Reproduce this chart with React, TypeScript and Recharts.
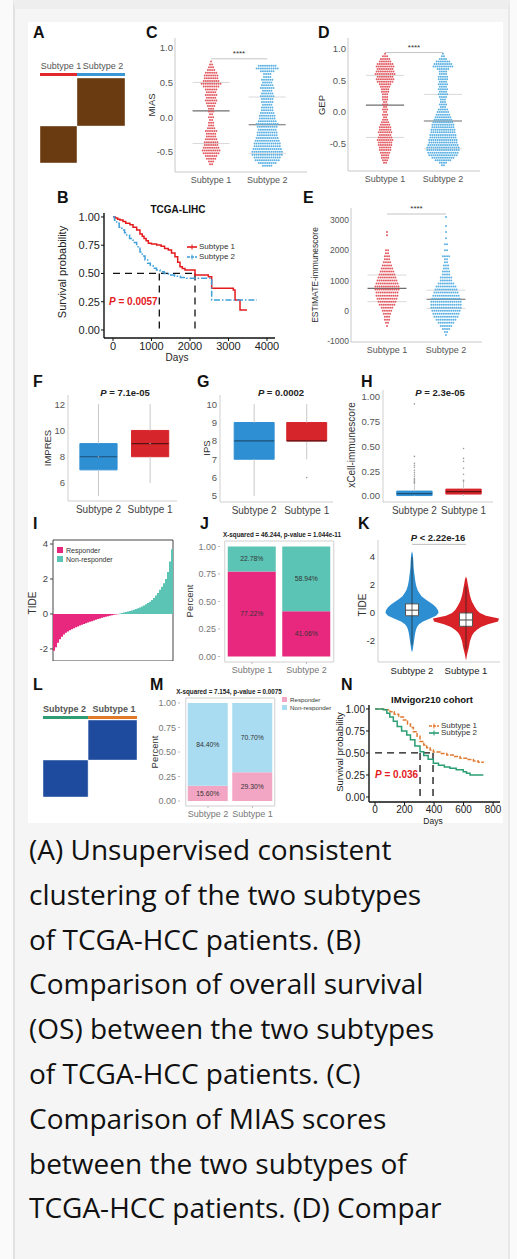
import React from "react"
import {
  ComposedChart, ScatterChart, LineChart, BarChart,
  Scatter, Line, Bar, Area, XAxis, YAxis, ReferenceLine, ReferenceArea, LabelList, Cell,
} from "recharts"

const SANS = "'Liberation Sans', Arial, Helvetica, sans-serif"
const BODY = "'Open Sans', 'Noto Sans', sans-serif"

// ---------- data ----------
const order12 = ["Subtype 1", "Subtype 2"]
const order21 = ["Subtype 2", "Subtype 1"]

// A / L: consensus clustering, samples per cluster in column order
const clusterA = [161, 209]
const clusterL = [167, 181]

// C: MIAS beeswarm rows [value, dots]
const miasS1 = [[0.8, 1], [0.76, 2], [0.72, 3], [0.68, 4], [0.64, 6], [0.6, 7], [0.56, 7], [0.52, 8], [0.48, 10], [0.44, 8], [0.4, 6], [0.36, 5], [0.32, 6], [0.28, 5], [0.24, 6], [0.2, 5], [0.16, 4], [0.12, 3], [0.08, 3], [0.04, 2], [0, 3], [-0.04, 2], [-0.08, 3], [-0.12, 3], [-0.16, 4], [-0.2, 6], [-0.24, 5], [-0.28, 5], [-0.32, 6], [-0.36, 7], [-0.4, 7], [-0.44, 8], [-0.48, 9], [-0.52, 8], [-0.56, 6], [-0.6, 5], [-0.64, 3], [-0.68, 2]]
const miasS2 = [[0.74, 9], [0.7, 11], [0.66, 7], [0.62, 4], [0.58, 4], [0.54, 6], [0.5, 5], [0.46, 6], [0.42, 7], [0.38, 5], [0.34, 6], [0.3, 7], [0.26, 6], [0.22, 6], [0.18, 5], [0.14, 6], [0.1, 6], [0.06, 7], [0.02, 8], [-0.02, 8], [-0.06, 9], [-0.1, 11], [-0.14, 10], [-0.18, 9], [-0.22, 10], [-0.26, 10], [-0.3, 11], [-0.34, 12], [-0.38, 13], [-0.42, 13], [-0.46, 14], [-0.5, 15], [-0.54, 15], [-0.58, 13], [-0.62, 12], [-0.66, 9], [-0.7, 5]]
const miasMean = [0.09, -0.11]
const miasUpper = [0.5, 0.29]
const miasLower = [-0.38, -0.52]

// D: GEP
const gepS1 = [[0.92, 1], [0.88, 3], [0.84, 5], [0.8, 6], [0.76, 8], [0.72, 9], [0.68, 8], [0.64, 9], [0.6, 10], [0.56, 8], [0.52, 9], [0.48, 8], [0.44, 6], [0.4, 5], [0.36, 4], [0.32, 4], [0.28, 3], [0.24, 3], [0.2, 3], [0.16, 2], [0.12, 3], [0.08, 2], [0.04, 3], [0, 2], [-0.04, 3], [-0.08, 2], [-0.12, 3], [-0.16, 4], [-0.2, 5], [-0.24, 6], [-0.28, 6], [-0.32, 7], [-0.36, 6], [-0.4, 7], [-0.44, 8], [-0.48, 7], [-0.52, 7], [-0.56, 6], [-0.6, 6], [-0.64, 5], [-0.68, 4], [-0.72, 4], [-0.76, 3], [-0.8, 2]]
const gepS2 = [[0.92, 1], [0.88, 2], [0.84, 4], [0.8, 7], [0.76, 9], [0.72, 10], [0.68, 6], [0.64, 4], [0.6, 4], [0.56, 5], [0.52, 5], [0.48, 4], [0.44, 5], [0.4, 4], [0.36, 5], [0.32, 4], [0.28, 5], [0.24, 4], [0.2, 3], [0.16, 3], [0.12, 4], [0.08, 3], [0.04, 5], [0, 6], [-0.04, 7], [-0.08, 8], [-0.12, 9], [-0.16, 10], [-0.2, 11], [-0.24, 11], [-0.28, 12], [-0.32, 12], [-0.36, 13], [-0.4, 13], [-0.44, 14], [-0.48, 14], [-0.52, 15], [-0.56, 16], [-0.6, 16], [-0.64, 15], [-0.68, 14], [-0.72, 11], [-0.76, 8], [-0.8, 4], [-0.84, 2]]
const gepMean = [0.11, -0.14]
const gepUpper = [0.58, 0.28]
const gepLower = [-0.4, -0.58]

// E: ESTIMATE immunescore
const estS1 = [[2600, 1], [2500, 1], [2000, 2], [1900, 2], [1800, 3], [1700, 3], [1600, 4], [1500, 5], [1400, 6], [1300, 7], [1200, 8], [1100, 9], [1000, 10], [900, 11], [800, 12], [700, 12], [600, 11], [500, 11], [400, 10], [300, 9], [200, 8], [100, 6], [0, 5], [-100, 4], [-200, 3], [-300, 3], [-400, 2], [-500, 1]]
const estS2 = [[3100, 1], [2800, 1], [2600, 1], [2400, 1], [2200, 2], [2000, 2], [1800, 4], [1700, 2], [1600, 2], [1500, 3], [1400, 3], [1300, 4], [1200, 4], [1100, 6], [1000, 6], [900, 8], [800, 10], [700, 11], [600, 12], [500, 13], [400, 14], [300, 15], [200, 15], [100, 15], [0, 14], [-100, 13], [-200, 12], [-300, 10], [-400, 8], [-500, 6], [-600, 4], [-700, 2], [-800, 1]]
const estMean = [740, 380]
const estUpper = [1180, 680]
const estLower = [300, 80]

// B: TCGA-LIHC Kaplan-Meier [days, survival]
const lihcS1 = [[0, 1], [60, 0.99], [120, 0.98], [180, 0.973], [260, 0.96], [330, 0.945], [440, 0.93], [520, 0.91], [615, 0.885], [700, 0.85], [760, 0.83], [805, 0.81], [860, 0.79], [918, 0.767], [1000, 0.76], [1134, 0.752], [1250, 0.74], [1340, 0.72], [1437, 0.708], [1520, 0.68], [1610, 0.649], [1680, 0.6], [1740, 0.56], [1800, 0.545], [1870, 0.531], [2130, 0.487], [2476, 0.472], [2563, 0.369], [3125, 0.354], [3170, 0.265], [3299, 0.177], [3480, 0.177]]
const lihcS2 = [[0, 1], [40, 0.97], [95, 0.944], [160, 0.91], [230, 0.885], [300, 0.86], [355, 0.84], [430, 0.81], [520, 0.775], [615, 0.737], [700, 0.69], [760, 0.655], [831, 0.62], [900, 0.59], [970, 0.565], [1047, 0.546], [1130, 0.53], [1221, 0.516], [1330, 0.5], [1437, 0.487], [1600, 0.475], [1750, 0.465], [1913, 0.457], [2476, 0.457], [2563, 0.265], [3740, 0.265]]
const lihcMedian = [1203, 2130]

// F/G/H boxplots, order Subtype 2, Subtype 1: [min, q1, median, q3, max]
const impresBox = [[5, 7, 8, 9, 12], [6, 8, 9, 10, 12]]
const ipsBox = [[5, 7, 8, 9, 10], [7, 8, 8, 9, 10]]
const ipsOut = [[], [6]]
const xcellBox = [[0, 0.005, 0.025, 0.05, 0.12], [0, 0.02, 0.045, 0.07, 0.14]]
const xcellOut = [[0.93, 0.4, 0.33, 0.31, 0.29, 0.26, 0.24, 0.22, 0.2, 0.18, 0.17, 0.16, 0.15, 0.14, 0.13], [0.48, 0.38, 0.35, 0.28, 0.22, 0.16, 0.15]]

// I: TIDE score per patient, sorted
const tideSorted = [-2.1, -1.9, -1.65, -1.45, -1.3, -1.18, -1.08, -1.0, -0.93, -0.87, -0.81, -0.76, -0.71, -0.66, -0.61, -0.57, -0.53, -0.49, -0.45, -0.41, -0.37, -0.33, -0.29, -0.26, -0.22, -0.19, -0.16, -0.13, -0.1, -0.08, -0.05, -0.03, -0.01, 0.02, 0.05, 0.08, 0.11, 0.14, 0.17, 0.2, 0.24, 0.28, 0.32, 0.37, 0.42, 0.48, 0.55, 0.62, 0.7, 0.8, 0.92, 1.05, 1.2, 1.38, 1.55, 1.75, 2.0, 2.4, 3.0, 3.7]

// J / M: response proportions
const jResponder = [0.7722, 0.4106]
const jNonResponder = [0.2278, 0.5894]
const mResponder = [0.156, 0.293]
const mNonResponder = [0.844, 0.707]

// K: violin density (Subtype 2, Subtype 1) on a TIDE grid, 0 outside the range
const violinY = [4.6, 4.4, 4.2, 4.0, 3.8, 3.6, 3.4, 3.2, 3.0, 2.8, 2.6, 2.4, 2.2, 2.0, 1.8, 1.6, 1.4, 1.2, 1.0, 0.8, 0.6, 0.4, 0.2, 0.0, -0.2, -0.4, -0.6, -0.8, -1.0, -1.2, -1.4, -1.6, -1.8, -2.0, -2.2, -2.4, -2.6, -2.8, -3.0, -3.2, -3.4]
const violinS2 = [0, 0, 0.8, 1.0, 1.2, 1.4, 1.5, 1.7, 2.0, 2.3, 2.7, 3.0, 3.5, 4.0, 4.8, 5.8, 7.5, 9.5, 13, 17, 21, 24, 26, 26.5, 24, 18, 11, 7, 5, 4, 3.3, 2.8, 2.4, 2.0, 1.6, 1.2, 0.8, 0, 0, 0, 0]
const violinS1 = [0, 0, 0, 0, 0, 0, 0, 0, 0, 0, 0, 1.0, 1.5, 2.0, 2.5, 3.0, 3.5, 4.2, 5.0, 6.0, 7.5, 9.0, 11, 14, 20, 33, 32, 22, 15, 11, 8, 6, 5, 4, 3.5, 3, 2.3, 1.6, 1.0, 0.5, 0]
const tideBox = [[-2.3, -0.2, 0.2, 0.65, 4.0], [-2.6, -0.95, -0.5, 0.0, 1.9]]

// N: IMvigor210 Kaplan-Meier
const imvS1 = [[0, 1], [40, 1], [70, 0.99], [102, 0.967], [130, 0.94], [160, 0.91], [192, 0.875], [220, 0.83], [240, 0.79], [260, 0.742], [285, 0.69], [305, 0.63], [330, 0.59], [350, 0.56], [373, 0.534], [395, 0.51], [440, 0.495], [486, 0.477], [530, 0.46], [576, 0.44], [620, 0.425], [667, 0.41], [700, 0.395], [734, 0.39]]
const imvS2 = [[0, 1], [30, 1], [56, 0.99], [80, 0.95], [100, 0.91], [124, 0.86], [150, 0.8], [180, 0.75], [215, 0.705], [240, 0.65], [270, 0.58], [305, 0.515], [330, 0.47], [360, 0.43], [395, 0.383], [430, 0.36], [470, 0.34], [508, 0.326], [550, 0.31], [598, 0.288], [620, 0.27], [644, 0.25], [734, 0.25]]
const imvMedian = [305, 393]

const captionLines = [
  "(A) Unsupervised consistent",
  "clustering of the two subtypes",
  "of TCGA-HCC patients. (B)",
  "Comparison of overall survival",
  "(OS) between the two subtypes",
  "of TCGA-HCC patients. (C)",
  "Comparison of MIAS scores",
  "between the two subtypes of",
  "TCGA-HCC patients. (D) Compar",
]

// ---------- helpers ----------
const tick = (size, fill) => ({ fontSize: size, fill, fontFamily: SANS })

function frame(x0, y0, x1, y1, yw, xh, mt = 4, mr = 4) {
  return {
    left: x0 - yw, top: y0 - mt, width: yw + (x1 - x0) + mr, height: mt + (y1 - y0) + xh,
    yw, xh, margin: { top: mt, right: mr, left: 0, bottom: 0 },
  }
}

function Holder({ f, children }) {
  return <div style={{ position: "absolute", left: f.left, top: f.top, width: f.width, height: f.height }}>{children}</div>
}

function Tx({ x, y, s = 9, c = "#333", b = false, mid = false, rot = false, children }: any) {
  const st: any = {
    position: "absolute", left: x, top: rot ? y : y - s / 2, fontFamily: SANS, fontSize: s,
    lineHeight: `${s}px`, color: c, fontWeight: b ? 700 : 400, whiteSpace: "nowrap",
  }
  if (rot) st.transform = "translate(-50%, -50%) rotate(-90deg)"
  else if (mid) st.transform = "translateX(-50%)"
  return <div style={st}>{children}</div>
}

function Letter({ x, y, children }) {
  return <Tx x={x} y={y} s={16} b c="#111">{children}</Tx>
}

function swarm(bins, center, step) {
  const pts = []
  bins.forEach(([v, n]) => {
    for (let i = 0; i < n; i++) pts.push({ x: center + (i - (n - 1) / 2) * step, y: v })
  })
  return pts
}

const dot = (c, r = 1.0) => (p) => <circle cx={p.cx} cy={p.cy} r={r} fill={c} />
const nothing = () => <g />

function SwarmPanel({ f, xDom, yDom, yTicks, fmt, bins, mean, upper, lower, bracket, unitPx, yFont = 9.5 }) {
  const colors = ["#e25b63", "#5db2e3"]
  const step = 2.1 / unitPx
  return (
    <Holder f={f}>
      <ScatterChart width={f.width} height={f.height} margin={f.margin}>
        <XAxis type="number" dataKey="x" domain={xDom} allowDataOverflow ticks={[1, 2]} interval={0}
          tickFormatter={(v) => order12[v - 1]} height={f.xh} axisLine={{ stroke: "#c8c8c8" }}
          tickLine={false} tickSize={3} tickMargin={2} tick={tick(9, "#555")} />
        <YAxis type="number" dataKey="y" domain={yDom} allowDataOverflow ticks={yTicks} interval={0}
          tickFormatter={fmt} width={f.yw} axisLine={{ stroke: "#c8c8c8" }} tickLine={false}
          tickSize={0} tickMargin={2} tick={tick(yFont, "#555")} />
        {[0, 1].map((i) => (
          <ReferenceLine key={`u${i}`} segment={[{ x: i + 0.67, y: upper[i] }, { x: i + 1.33, y: upper[i] }]} stroke="#d9d9d9" />
        ))}
        {[0, 1].map((i) => (
          <ReferenceLine key={`l${i}`} segment={[{ x: i + 0.67, y: lower[i] }, { x: i + 1.33, y: lower[i] }]} stroke="#d9d9d9" />
        ))}
        {bins.map((b, i) => (
          <Scatter key={`s${i}`} data={swarm(b, i + 1, step)} isAnimationActive={false} shape={dot(colors[i])} />
        ))}
        {[0, 1].map((i) => (
          <ReferenceLine key={`m${i}`} segment={[{ x: i + 0.67, y: mean[i] }, { x: i + 1.33, y: mean[i] }]} stroke="#6e6e6e" strokeWidth={1.1} />
        ))}
        <ReferenceLine segment={[{ x: 1, y: bracket }, { x: 2, y: bracket }]} stroke="#c4c4c4" />
      </ScatterChart>
    </Holder>
  )
}

function KmPanel({ f, xDom, xTicks, yDom, curves, medians, font }) {
  const dash = { stroke: "#111", strokeDasharray: "7 5", strokeWidth: 1.3 }
  return (
    <Holder f={f}>
      <LineChart width={f.width} height={f.height} margin={f.margin}>
        <XAxis type="number" dataKey="t" domain={xDom} allowDataOverflow ticks={xTicks} interval={0}
          height={f.xh} axisLine={{ stroke: "#111", strokeWidth: 1.4 }} tickLine={{ stroke: "#111" }}
          tickSize={3} tickMargin={1} tick={tick(font, "#222")} />
        <YAxis type="number" domain={yDom} allowDataOverflow ticks={[0, 0.25, 0.5, 0.75, 1]} interval={0}
          tickFormatter={(v) => v.toFixed(2)} width={f.yw} axisLine={{ stroke: "#111", strokeWidth: 1.4 }}
          tickLine={{ stroke: "#111" }} tickSize={3} tickMargin={1} tick={tick(font, "#222")} />
        <ReferenceLine segment={[{ x: 0, y: 0.5 }, { x: medians[1], y: 0.5 }]} {...dash} />
        {medians.map((m, i) => (
          <ReferenceLine key={`md${i}`} segment={[{ x: m, y: 0.5 }, { x: m, y: 0 }]} {...dash} />
        ))}
        {curves.map((c, i) => (
          <Line key={`c${i}`} data={c.data.map(([t, s]) => ({ t, s }))} dataKey="s" type="stepAfter"
            stroke={c.color} strokeWidth={1.5} strokeDasharray={c.dash} dot={false} isAnimationActive={false} />
        ))}
      </LineChart>
    </Holder>
  )
}

function BoxPanel({ f, xDom, yDom, yTicks, fmt, stats, outliers = [[], []], half }) {
  const fills = ["#2f8fd3", "#d7262b"]
  const meds = ["#1d4f73", "#5b1212"]
  const rows = stats.map((s, i) => ({ x: i + 1, y: s[2] }))
  const outPts = outliers.flatMap((o, i) => o.map((v) => ({ x: i + 1, y: v })))
  return (
    <Holder f={f}>
      <ComposedChart data={rows} width={f.width} height={f.height} margin={f.margin}>
        <XAxis type="number" dataKey="x" domain={xDom} allowDataOverflow ticks={[1, 2]} interval={0}
          tickFormatter={(v) => order21[v - 1]} height={f.xh} axisLine={{ stroke: "#cfcfcf" }}
          tickLine={false} tickSize={3} tickMargin={2} tick={tick(10, "#444")} />
        <YAxis type="number" dataKey="y" domain={yDom} allowDataOverflow ticks={yTicks} interval={0}
          tickFormatter={fmt} width={f.yw} axisLine={{ stroke: "#cfcfcf" }} tickLine={false}
          tickSize={0} tickMargin={3} tick={tick(9.5, "#555")} />
        {stats.map((s, i) => (
          <ReferenceLine key={`wl${i}`} segment={[{ x: i + 1, y: s[0] }, { x: i + 1, y: s[1] }]} stroke="#c9c9c9" />
        ))}
        {stats.map((s, i) => (
          <ReferenceLine key={`wh${i}`} segment={[{ x: i + 1, y: s[3] }, { x: i + 1, y: s[4] }]} stroke="#c9c9c9" />
        ))}
        {stats.map((s, i) => (
          <ReferenceArea key={`b${i}`} x1={i + 1 - half} x2={i + 1 + half} y1={s[1]} y2={s[3]}
            fill={fills[i]} fillOpacity={1} stroke={fills[i]} />
        ))}
        {stats.map((s, i) => (
          <ReferenceLine key={`m${i}`} segment={[{ x: i + 1 - half, y: s[2] }, { x: i + 1 + half, y: s[2] }]} stroke={meds[i]} strokeWidth={1.1} />
        ))}
        <Scatter data={outPts} isAnimationActive={false} shape={dot("#9a9a9a", 0.8)} />
      </ComposedChart>
    </Holder>
  )
}

function StackPanel({ f, rows, colors, pad, barSize }) {
  const pct = (v) => `${(v * 100).toFixed(2)}%`
  return (
    <Holder f={f}>
      <BarChart data={rows} width={f.width} height={f.height} margin={f.margin}>
        <XAxis dataKey="name" padding={pad} height={f.xh} axisLine={false} tickLine={{ stroke: "#bbb" }}
          tickSize={2} tickMargin={3} tick={tick(9, "#777")} />
        <YAxis type="number" domain={[-0.05, 1.05]} allowDataOverflow ticks={[0, 0.25, 0.5, 0.75, 1]} interval={0}
          tickFormatter={(v) => v.toFixed(2)} width={f.yw} axisLine={false} tickLine={{ stroke: "#bbb" }}
          tickSize={2} tickMargin={2} tick={tick(9, "#777")} />
        <Bar dataKey="resp" stackId="a" fill={colors[0]} barSize={barSize} isAnimationActive={false}>
          <LabelList dataKey="resp" position="center" formatter={pct} fontSize={6.8} fill="#333" fontFamily={SANS} />
        </Bar>
        <Bar dataKey="non" stackId="a" fill={colors[1]} barSize={barSize} isAnimationActive={false}>
          <LabelList dataKey="non" position="center" formatter={pct} fontSize={6.8} fill="#333" fontFamily={SANS} />
        </Bar>
        <ReferenceArea y1={-0.05} y2={1.05} fill="none" stroke="#d0d0d0" ifOverflow="visible" />
      </BarChart>
    </Holder>
  )
}

function HeatPanel({ f, counts, fill, bandColors, rowsPx, bandPx }) {
  const total = counts[0] + counts[1]
  const starts = [0, counts[0]]
  const top = total * (1 + bandPx[0] / rowsPx)
  const rows = counts.map((n, i) => ({ x: starts[i] + n / 2, y: starts[i] + n / 2 }))
  return (
    <Holder f={f}>
      <ComposedChart data={rows} width={f.width} height={f.height} margin={f.margin}>
        <XAxis type="number" dataKey="x" domain={[0, total]} allowDataOverflow hide />
        <YAxis type="number" dataKey="y" domain={[0, top]} allowDataOverflow hide />
        {counts.map((n, i) => (
          <ReferenceArea key={`h${i}`} x1={starts[i]} x2={starts[i] + n} y1={starts[i]} y2={starts[i] + n}
            fill={fill} fillOpacity={1} stroke="#ffffff" strokeOpacity={0.4} />
        ))}
        {counts.map((n, i) => (
          <ReferenceArea key={`a${i}`} x1={starts[i]} x2={starts[i] + n}
            y1={total * (1 + bandPx[1] / rowsPx)} y2={total * (1 + bandPx[2] / rowsPx)}
            fill={bandColors[i]} fillOpacity={1} />
        ))}
        <Scatter dataKey="y" isAnimationActive={false} shape={nothing} />
      </ComposedChart>
    </Holder>
  )
}

function KmKey({ x, y, color, dash, children, s = 8 }) {
  return (
    <div style={{ position: "absolute", left: x, top: y - s / 2, height: s, display: "flex", alignItems: "center", gap: 2 }}>
      <svg width={10} height={6}>
        <line x1={0} y1={3} x2={10} y2={3} stroke={color} strokeWidth={1.6} strokeDasharray={dash} />
        <line x1={5} y1={0.5} x2={5} y2={5.5} stroke={color} strokeWidth={1} />
      </svg>
      <span style={{ fontFamily: SANS, fontSize: s, lineHeight: `${s}px`, color: "#333", whiteSpace: "nowrap" }}>{children}</span>
    </div>
  )
}

function SqKey({ x, y, color, children, s = 7, box = 6 }) {
  return (
    <div style={{ position: "absolute", left: x, top: y - s / 2, height: s, display: "flex", alignItems: "center", gap: 3 }}>
      <div style={{ width: box, height: box, background: color }} />
      <span style={{ fontFamily: SANS, fontSize: s, lineHeight: `${s}px`, color: "#333", whiteSpace: "nowrap" }}>{children}</span>
    </div>
  )
}

// ---------- frames ----------
const fC = frame(175, 38, 307, 172, 30, 16)
const fD = frame(348, 38, 480, 171, 30, 16)
const fE = frame(351, 208, 482, 342, 30, 14)
const fB = frame(104, 213, 275, 338, 30, 16)
const fF = frame(68, 395, 177, 501, 30, 16)
const fG = frame(220, 395, 333, 502, 30, 16)
const fH = frame(383, 390, 493, 502, 30, 16)
const fI = frame(53, 540, 173, 661, 30, 0)
const fJ = frame(220, 540.5, 338, 661.5, 30, 16)
const fK = frame(378, 540, 500, 662, 30, 16)
const fA = frame(40, 68, 125, 163, 0, 0, 0, 0)
const fL = frame(43, 712, 137, 797, 0, 0, 0, 0)
const fM = frame(180, 698, 278, 806, 30, 16)
const fN = frame(369, 705, 500, 802, 30, 14)

function TidePanel() {
  const rows = tideSorted.map((v, i) => ({ i, v }))
  return (
    <Holder f={fI}>
      <BarChart data={rows} width={fI.width} height={fI.height} margin={fI.margin} barCategoryGap={0} barGap={0}>
        <XAxis dataKey="i" hide />
        <YAxis type="number" domain={[-2.69, 4.23]} allowDataOverflow ticks={[-2, 0, 2, 4]} interval={0}
          width={fI.yw} axisLine={false} tickLine={{ stroke: "#444" }} tickSize={3} tickMargin={2} tick={tick(9.5, "#444")} />
        <Bar dataKey="v" isAnimationActive={false}>
          {rows.map((r, i) => <Cell key={i} fill={r.v < 0 ? "#e7287e" : "#5cc4b5"} />)}
        </Bar>
        <ReferenceArea y1={-2.69} y2={4.23} fill="none" stroke="#444" ifOverflow="visible" />
      </BarChart>
    </Holder>
  )
}

function ViolinPanel() {
  const k = 1 / 54
  const rows = violinY.map((y, i) => ({
    y,
    s2: [1 - violinS2[i] * k, 1 + violinS2[i] * k],
    s1: [2 - violinS1[i] * k, 2 + violinS1[i] * k],
  }))
  const half = 0.12
  return (
    <Holder f={fK}>
      <ComposedChart layout="vertical" data={rows} width={fK.width} height={fK.height} margin={fK.margin}>
        <XAxis type="number" domain={[0.37, 2.63]} allowDataOverflow ticks={[1, 2]} interval={0}
          tickFormatter={(v) => order21[v - 1]} height={fK.xh} axisLine={{ stroke: "#cfcfcf" }}
          tickLine={false} tickSize={3} tickMargin={2} tick={tick(9.5, "#222")} />
        <YAxis type="number" dataKey="y" domain={[-3.5, 5.21]} allowDataOverflow reversed ticks={[-2, 0, 2, 4]} interval={0}
          width={fK.yw} axisLine={{ stroke: "#cfcfcf" }} tickLine={false} tickSize={0} tickMargin={3} tick={tick(9.5, "#333")} />
        <Area dataKey="s2" type="linear" fill="#2d8fd2" stroke="none" fillOpacity={1} isAnimationActive={false} />
        <Area dataKey="s1" type="linear" fill="#d82228" stroke="none" fillOpacity={1} isAnimationActive={false} />
        {tideBox.map((s, i) => (
          <ReferenceLine key={`w${i}`} segment={[{ x: i + 1, y: s[0] }, { x: i + 1, y: s[4] }]} stroke="#222" strokeWidth={0.7} />
        ))}
        {tideBox.map((s, i) => (
          <ReferenceArea key={`b${i}`} x1={i + 1 - half} x2={i + 1 + half} y1={s[1]} y2={s[3]} fill="#ffffff" fillOpacity={1} stroke="#555" />
        ))}
        {tideBox.map((s, i) => (
          <ReferenceLine key={`m${i}`} segment={[{ x: i + 1 - half, y: s[2] }, { x: i + 1 + half, y: s[2] }]} stroke="#444" />
        ))}
        <ReferenceLine segment={[{ x: 1, y: 4.9 }, { x: 2, y: 4.9 }]} stroke="#bbb" />
      </ComposedChart>
    </Holder>
  )
}

export default function App() {
  const jRows = order12.map((name, i) => ({ name, resp: jResponder[i], non: jNonResponder[i] }))
  const mRows = order21.map((name, i) => ({ name, resp: mResponder[i], non: mNonResponder[i] }))
  return (
    <div style={{ position: "absolute", left: 0, top: 0, width: 517, height: 1259, background: "#fafafa", overflow: "hidden" }}>
      <div style={{ position: "absolute", left: 13, top: 0, width: 493, height: 1259, background: "#f5f5f5", borderLeft: "2px solid #e2e2e2", borderRight: "2px solid #e8e8e8", borderTop: "9px solid #eeeeee" }} />
      <div style={{ position: "absolute", left: 28, top: 22, width: 475, height: 801, background: "#ffffff" }} />

      <HeatPanel f={fA} counts={clusterA} fill="#6a3a10" bandColors={["#e3262b", "#3a97d5"]} rowsPx={85} bandPx={[10, 2, 5]} />
      <SwarmPanel f={fC} xDom={[0.357, 2.71]} yDom={[-0.79, 1.14]} yTicks={[-0.5, 0, 0.5, 1]} fmt={(v) => v.toFixed(1)}
        bins={[miasS1, miasS2]} mean={miasMean} upper={miasUpper} lower={miasLower} bracket={0.84} unitPx={56} />
      <SwarmPanel f={fD} xDom={[0.36, 2.64]} yDom={[-0.93, 1.17]} yTicks={[-0.5, 0, 0.5, 1]} fmt={(v) => v.toFixed(1)}
        bins={[gepS1, gepS2]} mean={gepMean} upper={gepUpper} lower={gepLower} bracket={0.94} unitPx={58} />
      <KmPanel f={fB} xDom={[-234, 4208]} xTicks={[0, 1000, 2000, 3000, 4000]} yDom={[-0.071, 1.035]} medians={lihcMedian} font={11}
        curves={[{ data: lihcS1, color: "#e41a1c" }, { data: lihcS2, color: "#3f9fd9", dash: "6 2 1.5 2" }]} />
      <SwarmPanel f={fE} xDom={[0.39, 2.61]} yDom={[-1033, 3397]} yTicks={[-1000, 0, 1000, 2000, 3000]} fmt={(v) => `${v}`}
        bins={[estS1, estS2]} mean={estMean} upper={estUpper} lower={estLower} bracket={3198} unitPx={59} yFont={8.5} />
      <BoxPanel f={fF} xDom={[0.41, 2.52]} yDom={[4.63, 12.7]} yTicks={[6, 8, 10, 12]} fmt={(v) => `${v}`} stats={impresBox} half={0.36} />
      <BoxPanel f={fG} xDom={[0.35, 2.5]} yDom={[4.67, 10.5]} yTicks={[5, 6, 7, 8, 9, 10]} fmt={(v) => `${v}`} stats={ipsBox} outliers={ipsOut} half={0.38} />
      <BoxPanel f={fH} xDom={[0.36, 2.6]} yDom={[-0.06, 1.07]} yTicks={[0, 0.25, 0.5, 0.75, 1]} fmt={(v) => v.toFixed(2)} stats={xcellBox} outliers={xcellOut} half={0.36} />
      <TidePanel />
      <StackPanel f={fJ} rows={jRows} colors={["#e7287e", "#5cc4b5"]} pad={{ left: 4.75, right: 4.25 }} barSize={48} />
      <ViolinPanel />
      <HeatPanel f={fL} counts={clusterL} fill="#1e4b9e" bandColors={["#2e9d73", "#e0792a"]} rowsPx={77} bandPx={[8, 1, 4]} />
      <StackPanel f={fM} rows={mRows} colors={["#f3a6c4", "#a9dcf0"]} pad={{ left: 5.75, right: 3.25 }} barSize={40} />
      <KmPanel f={fN} xDom={[-41, 847]} xTicks={[0, 200, 400, 600, 800]} yDom={[-0.057, 1.045]} medians={imvMedian} font={10}
        curves={[{ data: imvS1, color: "#e07a30", dash: "4 1.5" }, { data: imvS2, color: "#2b9e73" }]} />

      {/* panel letters */}
      <Letter x={33} y={32.5}>A</Letter>
      <Letter x={146} y={32.5}>C</Letter>
      <Letter x={318} y={32.5}>D</Letter>
      <Letter x={57} y={197.5}>B</Letter>
      <Letter x={303} y={197.5}>E</Letter>
      <Letter x={33} y={382}>F</Letter>
      <Letter x={197} y={382}>G</Letter>
      <Letter x={361} y={382}>H</Letter>
      <Letter x={33} y={524}>I</Letter>
      <Letter x={200} y={524}>J</Letter>
      <Letter x={358} y={524}>K</Letter>
      <Letter x={33} y={685}>L</Letter>
      <Letter x={150} y={685}>M</Letter>
      <Letter x={341} y={685}>N</Letter>

      {/* A */}
      <Tx x={61} y={66} s={9} c="#555" mid>Subtype 1</Tx>
      <Tx x={103} y={66} s={9} c="#555" mid>Subtype 2</Tx>
      {/* C, D, E */}
      <Tx x={152} y={105} s={9.5} rot>MIAS</Tx>
      <Tx x={239} y={54} s={8} mid>****</Tx>
      <Tx x={322} y={105} s={9.5} rot>GEP</Tx>
      <Tx x={414} y={48} s={8} mid>****</Tx>
      <Tx x={315} y={275} s={8.5} rot>ESTIMATE-immunescore</Tx>
      <Tx x={416.5} y={209} s={8} mid>****</Tx>
      {/* B */}
      <Tx x={178} y={210} s={10} b c="#111" mid>TCGA-LIHC</Tx>
      <Tx x={62} y={272} s={11} c="#222" rot>Survival probability</Tx>
      <Tx x={109} y={302} s={10} b c="#e41a1c"><i>P</i> = 0.0057</Tx>
      <Tx x={177} y={358} s={10} c="#222" mid>Days</Tx>
      <KmKey x={187} y={247} color="#e41a1c">Subtype 1</KmKey>
      <KmKey x={187} y={257} color="#3f9fd9" dash="3 1">Subtype 2</KmKey>
      {/* F, G, H */}
      <Tx x={125} y={393} s={9.5} b c="#222" mid><i>P</i> = 7.1e-05</Tx>
      <Tx x={48} y={448} s={9.5} rot>IMPRES</Tx>
      <Tx x={281} y={393} s={9.5} b c="#222" mid><i>P</i> = 0.0002</Tx>
      <Tx x={207} y={448} s={9.5} rot>IPS</Tx>
      <Tx x={440} y={393} s={9.5} b c="#222" mid><i>P</i> = 2.3e-05</Tx>
      <Tx x={352} y={445} s={10} rot>xCell-immunescore</Tx>
      {/* I */}
      <Tx x={33} y={603} s={10} rot>TIDE</Tx>
      <SqKey x={57} y={550} color="#e7287e">Responder</SqKey>
      <SqKey x={57} y={559} color="#5cc4b5">Non-responder</SqKey>
      {/* J */}
      <Tx x={282} y={535} s={6.3} b c="#222" mid>X-squared = 46.244, p-value = 1.044e-11</Tx>
      <Tx x={190} y={601} s={9.5} rot>Percent</Tx>
      {/* K */}
      <Tx x={438} y={538} s={9.5} b c="#222" mid><i>P</i> &lt; 2.22e-16</Tx>
      <Tx x={363} y={605} s={10} rot>TIDE</Tx>
      {/* L */}
      <Tx x={64.5} y={709} s={9} b c="#555" mid>Subtype 2</Tx>
      <Tx x={114} y={709} s={9} b c="#555" mid>Subtype 1</Tx>
      {/* M */}
      <Tx x={229} y={692} s={6.3} b c="#222" mid>X-squared = 7.154, p-value = 0.0075</Tx>
      <Tx x={155} y={752} s={9.5} rot>Percent</Tx>
      <SqKey x={282} y={700} color="#f3a6c4" s={6.2} box={5}>Responder</SqKey>
      <SqKey x={282} y={708} color="#a9dcf0" s={6.2} box={5}>Non-responder</SqKey>
      {/* N */}
      <Tx x={432} y={700} s={9.5} b c="#111" mid>IMvigor210 cohort</Tx>
      <Tx x={340} y={752} s={9.5} c="#222" rot>Survival probability</Tx>
      <Tx x={375} y={775} s={10} b c="#e41a1c"><i>P</i> = 0.036</Tx>
      <Tx x={433} y={821} s={8.5} c="#222" mid>Days</Tx>
      <KmKey x={429} y={726} color="#e07a30" dash="3 1">Subtype 1</KmKey>
      <KmKey x={429} y={733} color="#2b9e73">Subtype 2</KmKey>

      {/* caption */}
      <div style={{ position: "absolute", left: 29, top: 827, width: 474, overflow: "hidden", fontFamily: BODY, fontSize: 28, lineHeight: 1.6, color: "#111" }}>
        {captionLines.map((l, i) => <div key={i} style={{ whiteSpace: "nowrap" }}>{l}</div>)}
      </div>
    </div>
  )
}
